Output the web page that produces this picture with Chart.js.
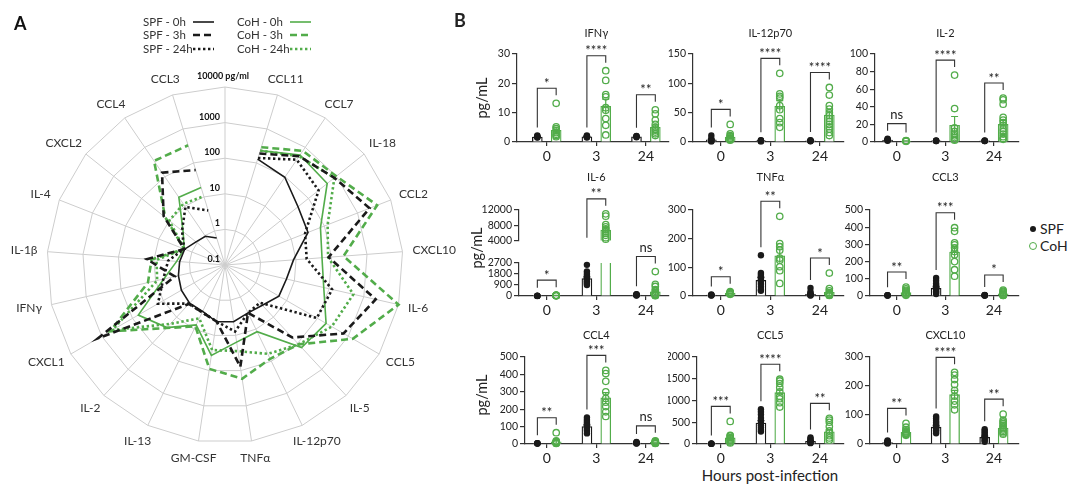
<!DOCTYPE html>
<html>
<head>
<meta charset="utf-8">
<title>Cytokines SPF vs CoH</title>
<script src="https://cdn.jsdelivr.net/npm/chart.js@4.4.1/dist/chart.umd.min.js"></script>
<style>
  html, body { margin: 0; padding: 0; background: #fff; }
  body { position: relative; width: 1080px; height: 491px; overflow: hidden; font-family: Lato, "Open Sans", sans-serif; color: #222; }
  canvas { position: absolute; }
  .lbl { position: absolute; white-space: nowrap; line-height: 18px; }
  .dot { position: absolute; width: 6px; height: 6px; border-radius: 50%; }
</style>
</head>
<body>
<canvas id="radar" width="470" height="491" style="left:0;top:0"></canvas>
<div class="lbl" style="left:454px;top:11px;font-size:18px;font-weight:bold">B</div>
<div class="lbl" style="left:770px;top:466px;font-size:15px;transform:translateX(-50%)">Hours post-infection</div>
<div class="dot" style="left:1030px;top:226px;background:#1a1a1a"></div>
<div class="lbl" style="left:1040px;top:220px;font-size:14px">SPF</div>
<div class="dot" style="left:1029px;top:242px;border:1.3px solid #52ac4a"></div>
<div class="lbl" style="left:1040px;top:237px;font-size:14px">CoH</div>
<script>
const FONT = 'Lato, "Open Sans", sans-serif';
const BLACK = '#1a1a1a', GREEN = '#52ac4a';

const hours = ['0', '3', '24'];

// ---- panel A: radar, pg/ml (spoke 0 is the unlabelled scale spoke) ----
const radarLabels = ['', 'CCL11', 'CCL7', 'IL-18', 'CCL2', 'CXCL10', 'IL-6', 'CCL5', 'IL-5', 'IL-12p70',
  'TNFα', 'GM-CSF', 'IL-13', 'IL-2', 'CXCL1', 'IFNγ', 'IL-1β', 'IL-4', 'CXCL2', 'CCL4', 'CCL3'];
const spf0h  = [130, 96, 42, 32, 8.5, 5.9, 5.6, 3.5, 3.1, 4.1, 4.1, 2.8, 2.9, 2.6, 2.2, 1.9, 1.65, 1.1, 0.95, 0.62];
const spf3h  = [190, 500, 850, 2300, 83, 2200, 700, 60, 3.1, 78, 4, 3, 3.1, 1300, 2.8, 16, 1.7, 16, 138, 62];
const spf24h = [140, 380, 230, 26, 20, 122, 95, 2.8, 3.1, 7.8, 4, 3, 3, 15, 6, 4, 1.7, 3.5, 9.4, 4];
const coh0h  = [230, 550, 470, 76, 54, 70, 190, 145, 12, 15.5, 37, 7.4, 25, 65, 5.8, 2.3, 1.7, 3.2, 20, 19];
const coh3h  = [290, 760, 1000, 3900, 218, 10000, 1400, 110, 84, 170, 89, 8.2, 26, 530, 16.6, 11.7, 1.7, 14, 345, 330];
const coh24h = [230, 500, 850, 125, 80, 500, 290, 110, 59, 28, 26, 4.6, 18, 450, 9, 8.5, 1.7, 10, 12, 10.5];
const radarTicks = [0.1, 1, 10, 100, 1000, 10000];

// ---- panel B: mean, SEM, individual animals, significance (0h, 3h, 24h) ----
const ifngSpfMean = [1.7, 1.8, 1.8];
const ifngSpfSem  = [0.1, 0.1, 0.1];
const ifngSpfPts  = [[2.2, 2.0, 1.8, 1.6, 1.5], [2.2, 2.0, 1.9, 1.7, 1.5], [2.1, 2.0, 1.8, 1.6]];
const ifngCohMean = [4.0, 12.2, 5.0];
const ifngCohSem  = [1.1, 2.4, 0.8];
const ifngCohPts  = [[13.2, 5.2, 4.6, 3.8, 3.2, 2.6, 2.2, 1.8], [24.3, 21, 16.2, 15.4, 11.7, 10.8, 8, 5.7, 2.4], [11, 9.6, 7.5, 6, 5, 4.4, 4, 3.4, 2.8, 2.2]];
const ifngSig     = ['*', '****', '**'];

const il12SpfMean = [3.5, 2.0, 2.2];
const il12SpfSem  = [1.4, 0.4, 0.4];
const il12SpfPts  = [[11, 6, 3, 2, 1.5, 1], [3, 2.5, 2, 1.5, 1], [3.2, 2.5, 2, 1.5, 1.2]];
const il12CohMean = [8.5, 61, 46];
const il12CohSem  = [2.6, 9.5, 6.5];
const il12CohPts  = [[30, 14, 11, 9, 7, 6, 5, 4, 3], [117, 82, 78, 75, 62, 55, 40, 33, 25], [93, 80, 62, 56, 50, 45, 40, 35, 30, 26, 22, 16, 11]];
const il12Sig     = ['*', '****', '****'];

const il2SpfMean = [2.2, 1.2, 1.2];
const il2SpfSem  = [0.4, 0.2, 0.2];
const il2SpfPts  = [[3.8, 3, 2.5, 2, 1.5], [1.8, 1.4, 1.2, 1], [1.8, 1.5, 1.2, 1]];
const il2CohMean = [1.0, 19, 20];
const il2CohSem  = [0.2, 10, 4.5];
const il2CohPts  = [[1.6, 1.4, 1.2, 1, 0.8], [76, 38, 16, 12, 9, 7, 5, 3, 2], [50, 48, 43, 28, 25, 22, 19, 15, 12, 9, 6, 4, 3]];
const il2Sig     = ['ns', '****', '**'];

const il6SpfMean = [8, 1430, 80];
const il6SpfSem  = [2, 140, 15];
const il6SpfPts  = [[15, 10, 8, 5], [2550, 2000, 1800, 1650, 1500, 1400, 1300, 1200, 1100, 1000, 900], [150, 120, 100, 80, 60, 40]];
const il6CohMean = [40, 6800, 350];
const il6CohSem  = [8, 650, 180];
const il6CohPts  = [[70, 55, 45, 40, 35, 30, 25], [11000, 10400, 8200, 7600, 7100, 6800, 6400, 5900, 5400, 4800, 4400], [2000, 950, 780, 520, 380, 250, 180, 120, 90, 60, 40, 30]];
const il6Sig     = ['*', '**', 'ns'];

const tnfSpfMean = [3, 55, 6];
const tnfSpfSem  = [0.5, 10, 2.5];
const tnfSpfPts  = [[5, 4, 3, 2.5, 2], [142, 80, 74, 68, 62, 56, 50, 42, 32, 22, 18], [28, 15, 10, 6, 4, 3, 2]];
const tnfCohMean = [10, 140, 13];
const tnfCohSem  = [1, 24, 8];
const tnfCohPts  = [[15, 13, 12, 10.5, 9, 8, 7, 6], [278, 183, 172, 160, 132, 125, 102, 88, 44], [80, 26, 18, 12, 8, 6, 4, 3, 2]];
const tnfSig     = ['*', '**', '*'];

const ccl3SpfMean = [3, 45, 3.5];
const ccl3SpfSem  = [0.4, 8, 0.5];
const ccl3SpfPts  = [[5, 4, 3, 2.5], [105, 88, 72, 62, 54, 48, 42, 36, 28, 20, 12], [6, 5, 4, 3, 2.5]];
const ccl3CohMean = [20, 255, 13];
const ccl3CohSem  = [5, 32, 3.5];
const ccl3CohPts  = [[52, 42, 33, 27, 22, 16, 11, 7, 4], [397, 376, 309, 298, 280, 258, 240, 200, 153, 115], [35, 28, 22, 16, 11, 8, 6, 5, 4, 3]];
const ccl3Sig     = ['**', '***', '*'];

const ccl4SpfMean = [3, 100, 6];
const ccl4SpfSem  = [0.4, 10, 1.2];
const ccl4SpfPts  = [[5, 4, 3, 2.5], [152, 140, 128, 118, 108, 98, 88, 76, 61], [12, 9, 7, 5, 4, 3]];
const ccl4CohMean = [12, 265, 9];
const ccl4CohSem  = [7, 30, 1.5];
const ccl4CohPts  = [[65, 18, 14, 11, 9, 7, 5, 3], [423, 405, 360, 300, 262, 240, 215, 185, 158], [18, 15, 12, 10, 8, 6, 5, 3]];
const ccl4Sig     = ['**', '***', 'ns'];

const ccl5SpfMean = [6, 480, 60];
const ccl5SpfSem  = [1.5, 55, 18];
const ccl5SpfPts  = [[10, 8, 6, 4], [800, 740, 680, 600, 540, 480, 430, 380, 330, 285], [150, 120, 90, 65, 45, 30, 20]];
const ccl5CohMean = [140, 1180, 280];
const ccl5CohSem  = [52, 62, 52];
const ccl5CohPts  = [[520, 200, 185, 150, 120, 95, 70, 45, 25], [1490, 1450, 1390, 1300, 1200, 1100, 1040, 950, 850], [590, 550, 500, 400, 300, 250, 190, 140, 90]];
const ccl5Sig     = ['***', '****', '**'];

const cxcl10SpfMean = [5, 58, 23];
const cxcl10SpfSem  = [1.2, 5, 4];
const cxcl10SpfPts  = [[12, 10, 8, 6, 5, 4, 3, 2], [95, 88, 80, 74, 68, 62, 57, 52, 47, 42, 37], [51, 45, 40, 34, 28, 22, 17, 12, 8]];
const cxcl10CohMean = [40, 170, 55];
const cxcl10CohSem  = [4, 15, 5.5];
const cxcl10CohPts  = [[71, 58, 50, 45, 42, 39, 36, 33, 30], [247, 238, 222, 205, 185, 165, 148, 135, 118], [103, 82, 76, 70, 64, 58, 53, 48, 43, 38, 34]];
const cxcl10Sig     = ['**', '****', '**'];

// ---------------- radar ----------------
const radarSeries = [
  { label: 'SPF - 0h',  data: spf0h,  color: BLACK, width: 1.6, dash: [] },
  { label: 'SPF - 3h',  data: spf3h,  color: BLACK, width: 2.6, dash: [7, 4] },
  { label: 'SPF - 24h', data: spf24h, color: BLACK, width: 2.6, dash: [2.4, 2.6] },
  { label: 'CoH - 0h',  data: coh0h,  color: GREEN, width: 1.6, dash: [] },
  { label: 'CoH - 3h',  data: coh3h,  color: GREEN, width: 2.6, dash: [7, 4] },
  { label: 'CoH - 24h', data: coh24h, color: GREEN, width: 2.6, dash: [2.4, 2.6] }
];

const radarDecor = {
  id: 'radarDecor',
  afterDraw(chart) {
    const ctx = chart.ctx, r = chart.scales.r;
    const xc = r.xCenter, yc = r.yCenter, dist = r.drawingArea + 10;
    ctx.save();
    // spoke labels
    ctx.font = '12px ' + FONT; ctx.fillStyle = '#333';
    ctx.textAlign = 'center'; ctx.textBaseline = 'middle';
    chart.data.labels.forEach((lab, i) => {
      if (!lab) return;
      const p = r.getPointPosition(i, dist);
      const dx = (p.x - xc) / dist, dy = (p.y - yc) / dist;
      const w = ctx.measureText(lab).width;
      ctx.fillText(lab, p.x + dx * w / 2, p.y + dy * 7);
    });
    // log scale labels on the top spoke
    ctx.font = 'bold 9px ' + FONT; ctx.fillStyle = '#111';
    radarTicks.forEach((v, k) => {
      const d = r.getDistanceFromCenterForValue(Math.log10(v));
      if (k === radarTicks.length - 1) {
        ctx.textAlign = 'center';
        ctx.fillText(v + ' pg/ml', xc - 2, yc - d - 11);
      } else {
        ctx.textAlign = 'right';
        ctx.fillText(String(v), xc - 5, yc - d - 6);
      }
    });
    // legend
    const legendPos = [[143, 193, 22], [143, 193, 35], [143, 193, 49], [237, 290, 22], [237, 290, 35], [237, 290, 49]];
    ctx.font = '11.5px ' + FONT; ctx.textAlign = 'left'; ctx.fillStyle = '#333';
    chart.data.datasets.forEach((ds, i) => {
      const [tx, lx, y] = legendPos[i];
      ctx.fillText(ds.label, tx, y);
      ctx.beginPath();
      ctx.setLineDash(ds.borderDash);
      ctx.lineWidth = ds.borderWidth; ctx.strokeStyle = ds.borderColor;
      ctx.moveTo(lx, y); ctx.lineTo(lx + 21, y); ctx.stroke();
    });
    ctx.setLineDash([]);
    ctx.font = 'bold 18px ' + FONT; ctx.fillStyle = '#111'; ctx.textBaseline = 'alphabetic';
    ctx.fillText('A', 14, 30);
    ctx.restore();
  }
};

new Chart(document.getElementById('radar'), {
  type: 'radar',
  data: {
    labels: radarLabels,
    datasets: radarSeries.map(s => ({
      label: s.label,
      data: [null, ...s.data.map(v => Math.log10(v))],
      borderColor: s.color, borderWidth: s.width, borderDash: s.dash,
      fill: false, pointRadius: 0, tension: 0, spanGaps: false
    }))
  },
  options: {
    responsive: false, animation: false, events: [],
    layout: { padding: { left: 47, right: 67, top: 87, bottom: 48 } },
    plugins: { legend: { display: false }, tooltip: { enabled: false } },
    scales: {
      r: {
        min: -1, max: 4,
        ticks: { display: false, stepSize: 1 },
        pointLabels: { display: false },
        grid: { color: '#cdcdcd', lineWidth: 1 },
        angleLines: { color: '#cdcdcd', lineWidth: 1 }
      }
    }
  },
  plugins: [radarDecor]
});

// ---------------- bar / dot panels ----------------
const cols = [
  { left: 462, g: [547, 597, 647], right: 670 },
  { left: 668, g: [721, 771, 821], right: 845 },
  { left: 842, g: [897, 947, 995], right: 1020 }
];
const rows = [
  { top: 54, bottom: 142, titleY: 33, pgY: 98, pgX: 482 },
  { top: 210, bottom: 296, titleY: 177, pgY: 248, pgX: 477 },
  { top: 357, bottom: 444, titleY: 335, pgY: 395, pgX: 482 }
];

const panels = [
  { title: 'IFNγ', col: 0, row: 0, axisX: 517, yMax: 30, yStep: 10,
    spfMean: ifngSpfMean, spfSem: ifngSpfSem, spfPts: ifngSpfPts, cohMean: ifngCohMean, cohSem: ifngCohSem, cohPts: ifngCohPts, sig: ifngSig },
  { title: 'IL-12p70', col: 1, row: 0, axisX: 693, yMax: 150, yStep: 50,
    spfMean: il12SpfMean, spfSem: il12SpfSem, spfPts: il12SpfPts, cohMean: il12CohMean, cohSem: il12CohSem, cohPts: il12CohPts, sig: il12Sig },
  { title: 'IL-2', col: 2, row: 0, axisX: 875, yMax: 100, yStep: 20,
    spfMean: il2SpfMean, spfSem: il2SpfSem, spfPts: il2SpfPts, cohMean: il2CohMean, cohSem: il2CohSem, cohPts: il2CohPts, sig: il2Sig },
  { title: 'IL-6', col: 0, row: 1, axisX: 519, top: 210, bottom: 241, yMin: 4000, yMax: 12000, yStep: 4000, showX: false, pg: false,
    spfMean: il6SpfMean, spfSem: il6SpfSem, spfPts: il6SpfPts, cohMean: il6CohMean, cohSem: il6CohSem, cohPts: il6CohPts, sig: il6Sig },
  { title: null, col: 0, row: 1, axisX: 519, top: 263, bottom: 296, yMax: 2700, yStep: 900,
    spfMean: il6SpfMean, spfSem: il6SpfSem, spfPts: il6SpfPts, cohMean: il6CohMean, cohSem: il6CohSem, cohPts: il6CohPts, sig: il6Sig },
  { title: 'TNFα', col: 1, row: 1, axisX: 693, yMax: 300, yStep: 100,
    spfMean: tnfSpfMean, spfSem: tnfSpfSem, spfPts: tnfSpfPts, cohMean: tnfCohMean, cohSem: tnfCohSem, cohPts: tnfCohPts, sig: tnfSig },
  { title: 'CCL3', col: 2, row: 1, axisX: 870, yMax: 500, yStep: 100,
    spfMean: ccl3SpfMean, spfSem: ccl3SpfSem, spfPts: ccl3SpfPts, cohMean: ccl3CohMean, cohSem: ccl3CohSem, cohPts: ccl3CohPts, sig: ccl3Sig },
  { title: 'CCL4', col: 0, row: 2, axisX: 525, yMax: 500, yStep: 100,
    spfMean: ccl4SpfMean, spfSem: ccl4SpfSem, spfPts: ccl4SpfPts, cohMean: ccl4CohMean, cohSem: ccl4CohSem, cohPts: ccl4CohPts, sig: ccl4Sig },
  { title: 'CCL5', col: 1, row: 2, axisX: 697, yMax: 2000, yStep: 500,
    spfMean: ccl5SpfMean, spfSem: ccl5SpfSem, spfPts: ccl5SpfPts, cohMean: ccl5CohMean, cohSem: ccl5CohSem, cohPts: ccl5CohPts, sig: ccl5Sig },
  { title: 'CXCL10', col: 2, row: 2, axisX: 870, yMax: 300, yStep: 100,
    spfMean: cxcl10SpfMean, spfSem: cxcl10SpfSem, spfPts: cxcl10SpfPts, cohMean: cxcl10CohMean, cohSem: cxcl10CohSem, cohPts: cxcl10CohPts, sig: cxcl10Sig }
];

const OFF = 0.19;       // half distance between SPF and CoH bars, in group units
const PADT = 44, XH = 22;
const panelInfo = new WeakMap();

const panelDecor = {
  id: 'panelDecor',
  afterDatasetDraw(chart, args) {
    const info = panelInfo.get(chart.canvas);
    const ds = chart.data.datasets[args.index];
    if (!info || !ds.sems) return;
    const ctx = chart.ctx, ys = chart.scales.y;
    ctx.save();
    ctx.strokeStyle = ds.borderColor; ctx.lineWidth = 1.2;
    args.meta.data.forEach((bar, j) => {
      const m = ds.means[j], s = ds.sems[j];
      if (m < info.yMin || m > info.yMax) return;
      const yT = ys.getPixelForValue(m + s), yB = ys.getPixelForValue(Math.max(m - s, info.yMin));
      ctx.beginPath();
      ctx.moveTo(bar.x, yB); ctx.lineTo(bar.x, yT);
      ctx.moveTo(bar.x - 3.5, yT); ctx.lineTo(bar.x + 3.5, yT);
      ctx.stroke();
    });
    ctx.restore();
  },
  afterDraw(chart) {
    const info = panelInfo.get(chart.canvas);
    if (!info) return;
    const p = info.p, ctx = chart.ctx, xs = chart.scales.x, ys = chart.scales.y, area = chart.chartArea;
    const row = rows[p.row];
    ctx.save();
    ctx.fillStyle = '#222';
    if (p.title) {
      ctx.font = '11px ' + FONT; ctx.textAlign = 'center'; ctx.textBaseline = 'middle';
      ctx.fillText(p.title, xs.getPixelForValue(2), row.titleY - info.cTop);
    }
    if (p.col === 0 && p.pg !== false) {
      ctx.save();
      ctx.translate(row.pgX - cols[0].left, row.pgY - info.cTop);
      ctx.rotate(-Math.PI / 2);
      ctx.font = '14.5px ' + FONT; ctx.textAlign = 'center'; ctx.textBaseline = 'middle';
      ctx.fillText('pg/mL', 0, 0);
      ctx.restore();
    }
    // significance brackets
    ctx.strokeStyle = '#333'; ctx.lineWidth = 1.1;
    p.sig.forEach((lab, i) => {
      const sTop = Math.max(...p.spfPts[i], p.spfMean[i] + p.spfSem[i]);
      const cTop = Math.max(...p.cohPts[i], p.cohMean[i] + p.cohSem[i]);
      const all = Math.max(sTop, cTop);
      if (all < info.yMin || all > info.yMax) return;
      const yTop = ys.getPixelForValue(all) - 15;
      const leg = v => (v >= info.yMin ? ys.getPixelForValue(v) - 8 : area.bottom - 3);
      const xl = xs.getPixelForValue(i + 1 - OFF), xr = xs.getPixelForValue(i + 1 + OFF);
      const yl = Math.max(leg(sTop), yTop + 4), yr = Math.max(leg(cTop), yTop + 4);
      ctx.beginPath();
      ctx.moveTo(xl, yl); ctx.lineTo(xl, yTop); ctx.lineTo(xr, yTop); ctx.lineTo(xr, yr);
      ctx.stroke();
      ctx.font = '13px ' + FONT; ctx.textAlign = 'center'; ctx.textBaseline = 'alphabetic';
      ctx.fillText(lab, (xl + xr) / 2, lab === 'ns' ? yTop - 5 : yTop - 0.5);
    });
    ctx.restore();
  }
};

function makePanel(p) {
  const col = cols[p.col], row = rows[p.row];
  const top = p.top !== undefined ? p.top : row.top;
  const bottom = p.bottom !== undefined ? p.bottom : row.bottom;
  const showX = p.showX !== false;
  const yMin = p.yMin || 0, yMax = p.yMax;
  const cTop = top - PADT;
  const cv = document.createElement('canvas');
  cv.width = col.right + 4 - col.left;
  cv.height = bottom - cTop + (showX ? XH : 8);
  cv.style.left = col.left + 'px';
  cv.style.top = cTop + 'px';
  document.body.appendChild(cv);
  panelInfo.set(cv, { p, cTop, yMin, yMax });

  const ppu = (col.g[2] - col.g[0]) / 2;
  const xMin = 1 - (col.g[0] - p.axisX) / ppu;
  const xMax = 3 + (col.right - col.g[2]) / ppu;

  const barData = (means, off) => means.map((m, i) => {
    if (m < yMin) return { x: i + 1 + off, y: null };
    const hi = Math.min(m, yMax);
    return { x: i + 1 + off, y: yMin > 0 ? [yMin, hi] : hi, cut: m > yMax };
  });
  const ptData = (pts, off) => pts.flatMap((arr, i) =>
    arr.filter(v => v >= yMin && v <= yMax).map(v => ({ x: i + 1 + off, y: v })));
  const bw = c => (c.raw && c.raw.cut ? { top: 0, bottom: 0, left: 1.3, right: 1.3 } : 1.3);
  const yTicks = [];
  for (let v = yMin; v <= yMax; v += p.yStep) yTicks.push({ value: v });

  const axisGrid = { display: true, drawOnChartArea: false, drawTicks: true, color: '#333', lineWidth: 1.2, offset: false };
  const axisBorder = { display: true, color: '#333', width: 1.2 };

  new Chart(cv, {
    type: 'bar',
    data: {
      datasets: [
        { type: 'bar', data: barData(p.spfMean, -OFF), means: p.spfMean, sems: p.spfSem,
          backgroundColor: '#fff', borderColor: BLACK, borderWidth: bw, barThickness: 10, grouped: false, order: 3 },
        { type: 'bar', data: barData(p.cohMean, OFF), means: p.cohMean, sems: p.cohSem,
          backgroundColor: '#fff', borderColor: GREEN, borderWidth: bw, barThickness: 10, grouped: false, order: 2 },
        { type: 'scatter', data: ptData(p.spfPts, -OFF), backgroundColor: BLACK, borderColor: BLACK,
          borderWidth: 0, pointRadius: 3.2, order: 1, clip: false },
        { type: 'scatter', data: ptData(p.cohPts, OFF), backgroundColor: 'rgba(255,255,255,0)', borderColor: GREEN,
          borderWidth: 1.3, pointRadius: 3.2, order: 0, clip: false }
      ]
    },
    options: {
      responsive: false, animation: false, events: [],
      layout: { padding: { left: 0, right: 4, top: PADT, bottom: showX ? 0 : 8 } },
      plugins: { legend: { display: false }, tooltip: { enabled: false } },
      scales: {
        x: {
          type: 'linear', display: showX, min: xMin, max: xMax, offset: false,
          afterBuildTicks: s => { s.ticks = [1, 2, 3].map(v => ({ value: v })); },
          afterFit: s => { if (showX) s.height = XH; },
          ticks: { callback: v => hours[v - 1], font: { family: FONT, size: 14 }, color: '#222', padding: 2, maxRotation: 0, autoSkip: false },
          grid: Object.assign({}, axisGrid, { tickLength: 4 }),
          border: axisBorder
        },
        y: {
          type: 'linear', min: yMin, max: yMax,
          afterBuildTicks: s => { s.ticks = yTicks.slice(); },
          afterFit: s => { s.width = p.axisX - col.left; },
          ticks: { callback: v => String(v), font: { family: FONT, size: 10.5 }, color: '#222', padding: 2, autoSkip: false },
          grid: Object.assign({}, axisGrid, { tickLength: 5 }),
          border: axisBorder
        }
      }
    },
    plugins: [panelDecor]
  });
}

panels.forEach(makePanel);
</script>
</body>
</html>
